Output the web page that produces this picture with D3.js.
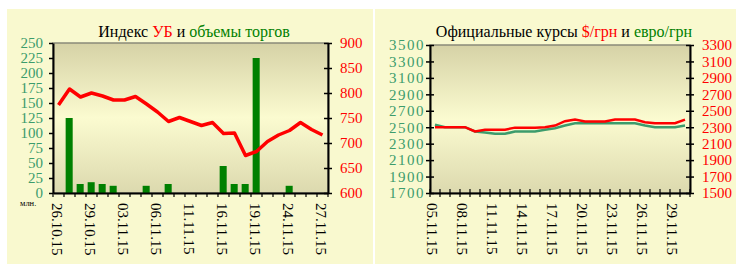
<!DOCTYPE html>
<html>
<head>
<meta charset="utf-8">
<script src="https://cdn.jsdelivr.net/npm/d3@7"></script>
<style>
	body { margin: 0; background: #fff; }
	svg text { font-family: "Liberation Serif", "DejaVu Serif", serif; }
</style>
</head>
<body>
<div id="charts"></div>
<script>
"use strict";

// index of the exchange and trading volumes (left chart)
const ubDates = ["26.10.15", "27.10.15", "28.10.15", "29.10.15", "30.10.15",
	"02.11.15", "03.11.15", "04.11.15", "05.11.15", "06.11.15",
	"09.11.15", "10.11.15", "11.11.15", "12.11.15", "13.11.15",
	"16.11.15", "17.11.15", "18.11.15", "19.11.15", "20.11.15",
	"23.11.15", "24.11.15", "25.11.15", "26.11.15", "27.11.15"];
const ubIndex = [776, 808, 792, 800, 794, 786, 786, 793, 778, 762,
	743, 751, 743, 735, 741, 719, 720, 675, 683, 703,
	716, 725, 741, 727, 716];
const ubVolume = [0, 125, 15, 18, 15, 12, 0, 0, 12, 0,
	15, 0, 0, 0, 0, 45, 15, 15, 225, 0,
	0, 12, 0, 0, 0];
const volumeTicks = [0, 25, 50, 75, 100, 125, 150, 175, 200, 225, 250];
const indexTicks = [600, 650, 700, 750, 800, 850, 900];

// official rates (right chart), hundredths of hryvnia
const fxDates = ["05.11.15", "06.11.15", "07.11.15", "08.11.15", "09.11.15",
	"10.11.15", "11.11.15", "12.11.15", "13.11.15", "14.11.15",
	"15.11.15", "16.11.15", "17.11.15", "18.11.15", "19.11.15",
	"20.11.15", "21.11.15", "22.11.15", "23.11.15", "24.11.15",
	"25.11.15", "26.11.15", "27.11.15", "28.11.15", "29.11.15", "30.11.15"];
const usdRate = [2300, 2300, 2300, 2300, 2248, 2268, 2268, 2270, 2295, 2295,
	2295, 2300, 2320, 2373, 2393, 2369, 2369, 2369, 2393, 2393,
	2393, 2361, 2348, 2348, 2348, 2393];
const eurRate = [2529, 2500, 2500, 2500, 2448, 2436, 2420, 2420, 2448, 2448,
	2448, 2468, 2487, 2520, 2548, 2548, 2548, 2548, 2548, 2548,
	2548, 2520, 2500, 2500, 2500, 2520];
const eurTicks = [1700, 1900, 2100, 2300, 2500, 2700, 2900, 3100, 3300, 3500];
const usdTicks = [1500, 1700, 1900, 2100, 2300, 2500, 2700, 2900, 3100, 3300];

const RED = "#ff0000";
const GREEN = "#008000";
const TEAL = "#3c9c6c";
const PANEL = "#f9f9cf";

let svg = d3.select("#charts").append("svg")
	.attr("width", 736)
	.attr("height", 264);

let defs = svg.append("defs");
let grad = defs.append("linearGradient")
	.attr("id", "plotFill")
	.attr("x1", 0).attr("y1", 0).attr("x2", 0).attr("y2", 1);
grad.append("stop").attr("offset", "0%").attr("stop-color", "#d6d2a6");
grad.append("stop").attr("offset", "50%").attr("stop-color", "#fbfbd0");
grad.append("stop").attr("offset", "100%").attr("stop-color", "#dcd9ae");

//panel backgrounds
svg.append("rect").attr("x", 7).attr("y", 9).attr("width", 366).attr("height", 255).style("fill", PANEL);
svg.append("rect").attr("x", 375).attr("y", 9).attr("width", 361).attr("height", 255).style("fill", PANEL);

function drawTitle(x, parts) {
	let t = svg.append("text")
		.attr("x", x)
		.attr("y", 37)
		.attr("text-anchor", "middle")
		.style("font-size", "16px");
	parts.forEach(function (p) {
		t.append("tspan").text(p[0]).style("fill", p[1]);
	});
}

function drawPlotBox(x0, x1, y0, y1) {
	svg.append("rect")
		.attr("x", x0).attr("y", y0)
		.attr("width", x1 - x0).attr("height", y1 - y0)
		.style("fill", "url(#plotFill)")
		.style("stroke", "#8a8a7a")
		.style("stroke-width", "1.5px");
}

// styles an axis made by d3; cross = ticks on both sides of the line
function styleAxis(g, color, cross, spacing) {
	g.attr("font-family", null);
	g.select(".domain").style("stroke", "#000").style("stroke-width", "2px");
	g.selectAll(".tick line").style("stroke", "#000").style("stroke-width", "1.5px");
	g.selectAll(".tick text")
		.style("fill", color)
		.style("font-size", "15px")
		.style("font-family", "Liberation Serif")
		.style("letter-spacing", spacing || "0px");
	if (cross) {
		g.selectAll(".tick line").attr("x1", -4).attr("x2", 4);
	}
}

function drawDateLabels(x, dates, y, shift) {
	let labels = dates.filter(function (d, i) { return i % 3 == 0; });
	svg.append("g").selectAll("text")
		.data(labels)
		.enter()
		.append("text")
		.attr("transform", function (d) {
			return "translate(" + (x(d) + x.bandwidth() / 2) + "," + y + ") rotate(90)";
		})
		.attr("dy", shift)
		.style("font-size", "15px")
		.style("fill", "#000")
		.text(function (d) { return d; });
}

/* ---------- left chart: УБ index and trading volume ---------- */
{
	let x0 = 53, x1 = 328, y0 = 43, y1 = 193;

	let x = d3.scaleBand().domain(ubDates).range([x0, x1]);
	let yVol = d3.scaleLinear().domain([0, 250]).range([y1, y0]);
	let yIdx = d3.scaleLinear().domain([600, 900]).range([y1, y0]);

	drawTitle(194, [["Индекс ", "#000"], ["УБ", RED], [" и ", "#000"], ["объемы торгов", GREEN]]);
	drawPlotBox(x0, x1, y0, y1);

	svg.append("g").selectAll("rect")
		.data(ubDates.map(function (d, i) { return { date: d, v: ubVolume[i] }; }).filter(function (d) { return d.v > 0; }))
		.enter()
		.append("rect")
		.attr("x", function (d) { return x(d.date) + x.bandwidth() * 0.15; })
		.attr("y", function (d) { return yVol(d.v); })
		.attr("width", x.bandwidth() * 0.64)
		.attr("height", function (d) { return yVol(0) - yVol(d.v); })
		.style("fill", GREEN);

	let line = d3.line()
		.x(function (d, i) { return x(ubDates[i]) + x.bandwidth() / 2; })
		.y(function (d) { return yIdx(d); });

	svg.append("path")
		.datum(ubIndex)
		.attr("d", line)
		.style("fill", "none")
		.style("stroke", RED)
		.style("stroke-width", "3.5px")
		.style("stroke-linejoin", "round");

	let left = svg.append("g")
		.attr("transform", "translate(" + x0 + ",0)")
		.call(d3.axisLeft(yVol).tickValues(volumeTicks).tickSize(4).tickPadding(6).tickSizeOuter(0));
	styleAxis(left, TEAL, false);

	let right = svg.append("g")
		.attr("transform", "translate(" + x1 + ",0)")
		.call(d3.axisRight(yIdx).tickValues(indexTicks).tickSize(4).tickPadding(8).tickSizeOuter(0));
	styleAxis(right, RED, true);

	let bottom = svg.append("g")
		.attr("transform", "translate(0," + y1 + ")")
		.call(d3.axisBottom(x).tickValues([]).tickSizeOuter(0));
	bottom.select(".domain").style("stroke", "#000").style("stroke-width", "2px");
	bottom.selectAll("line.xt")
		.data(d3.range(ubDates.length + 1))
		.enter()
		.append("line")
		.attr("class", "xt")
		.attr("x1", function (i) { return x0 + i * x.bandwidth(); })
		.attr("x2", function (i) { return x0 + i * x.bandwidth(); })
		.attr("y1", 0).attr("y2", 4)
		.style("stroke", "#000").style("stroke-width", "1.2px");

	drawDateLabels(x, ubDates, 203, "0.45em");

	svg.append("text")
		.attr("x", 20)
		.attr("y", 206)
		.style("font-size", "8.5px")
		.style("fill", "#000")
		.text("млн.");
}

/* ---------- right chart: official hryvnia rates ---------- */
{
	let x0 = 430, x1 = 690, y0 = 45, y1 = 193;

	let x = d3.scaleBand().domain(fxDates).range([x0, x1]);
	let yEur = d3.scaleLinear().domain([1700, 3500]).range([y1, y0]);
	let yUsd = d3.scaleLinear().domain([1500, 3300]).range([y1, y0]);

	drawTitle(564, [["Официальные курсы ", "#000"], ["$/грн", RED], [" и ", "#000"], ["евро/грн", GREEN]]);
	drawPlotBox(x0, x1, y0, y1);

	let cx = function (i) { return x(fxDates[i]) + x.bandwidth() / 2; };

	svg.append("path")
		.datum(eurRate)
		.attr("d", d3.line().x(function (d, i) { return cx(i); }).y(function (d) { return yEur(d); }))
		.style("fill", "none")
		.style("stroke", TEAL)
		.style("stroke-width", "2.5px");

	svg.append("path")
		.datum(usdRate)
		.attr("d", d3.line().x(function (d, i) { return cx(i); }).y(function (d) { return yUsd(d); }))
		.style("fill", "none")
		.style("stroke", RED)
		.style("stroke-width", "2.5px");

	let left = svg.append("g")
		.attr("transform", "translate(" + x0 + ",0)")
		.call(d3.axisLeft(yEur).tickValues(eurTicks).tickFormat(d3.format("d")).tickSize(4).tickPadding(1).tickSizeOuter(0));
	styleAxis(left, TEAL, true, "1.5px");

	let right = svg.append("g")
		.attr("transform", "translate(" + x1 + ",0)")
		.call(d3.axisRight(yUsd).tickValues(usdTicks).tickFormat(d3.format("d")).tickSize(4).tickPadding(8).tickSizeOuter(0));
	styleAxis(right, RED, true);

	let bottom = svg.append("g")
		.attr("transform", "translate(0," + y1 + ")")
		.call(d3.axisBottom(x).tickValues([]).tickSizeOuter(0));
	bottom.select(".domain").style("stroke", "#000").style("stroke-width", "2px");
	bottom.selectAll("line.xt")
		.data(d3.range(fxDates.length + 1))
		.enter()
		.append("line")
		.attr("class", "xt")
		.attr("x1", function (i) { return x0 + i * x.bandwidth(); })
		.attr("x2", function (i) { return x0 + i * x.bandwidth(); })
		.attr("y1", -4).attr("y2", 4)
		.style("stroke", "#000").style("stroke-width", "1.2px");

	drawDateLabels(x, fxDates, 203, "0.55em");
}
</script>
</body>
</html>
